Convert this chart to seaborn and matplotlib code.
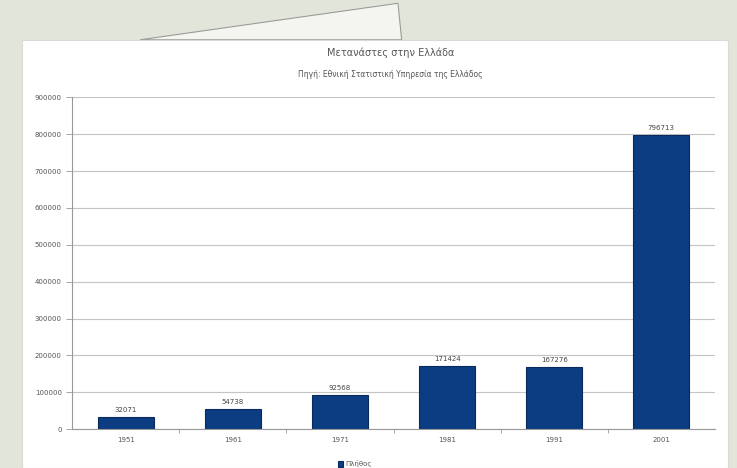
import pandas as pd
import matplotlib
matplotlib.use("Agg")
import matplotlib.pyplot as plt
from matplotlib.patches import Rectangle, Polygon
import seaborn as sns

# data
etos = ["1951", "1961", "1971", "1981", "1991", "2001"]
plithos = [32071, 54738, 92568, 171424, 167276, 796713]
y_ticks = [0, 100000, 200000, 300000, 400000, 500000, 600000, 700000, 800000, 900000]

titlos = "Μετανάστες στην Ελλάδα"
ypotitlos = "Πηγή: Εθνική Στατιστική Υπηρεσία της Ελλάδος"
legend_label = "Πλήθος"

df = pd.DataFrame({"etos": etos, "plithos": plithos})

sns.set_style("white")
plt.rcParams["font.family"] = ["DejaVu Sans"]

fig = plt.figure(figsize=(7.37, 4.68), dpi=100, facecolor="#e2e6da")

# background: paper behind and the white card
fig.patches.append(Polygon([(0.19, 0.915), (0.54, 0.993), (0.545, 0.915)],
                           closed=True, transform=fig.transFigure,
                           facecolor="#f4f5f1", edgecolor="#9a9c98", lw=0.8, zorder=-2))
fig.patches.append(Rectangle((0.03, 0.0), 0.958, 0.915, transform=fig.transFigure,
                             facecolor="white", edgecolor="#d8dad4", lw=0.8, zorder=-1))

ax = fig.add_axes([0.098, 0.083, 0.872, 0.709])
ax.set_zorder(1)
sns.barplot(data=df, x="etos", y="plithos", color="#0c3d82", width=0.52,
            edgecolor="#082a5c", linewidth=0.8, saturation=1, ax=ax, label=legend_label)

ax.set_ylim(0, 900000)
ax.set_xlim(-0.5, 5.5)
ax.set_yticks(y_ticks)
ax.set_yticklabels([str(v) for v in y_ticks])
ax.yaxis.grid(True, color="#c4c4c4", linewidth=0.8)
ax.set_axisbelow(True)
ax.set_xlabel("")
ax.set_ylabel("")
ax.tick_params(axis="both", labelsize=5, colors="#555555")
ax.tick_params(axis="y", left=True, length=4, width=0.6, color="#999999")
# ticks sit between the categories, not under the bars
ax.tick_params(axis="x", which="major", length=0, pad=6)
ax.set_xticks([i - 0.5 for i in range(1, len(etos))], minor=True)
ax.tick_params(axis="x", which="minor", bottom=True, length=3, width=0.6, color="#999999")
for s in ["top", "right"]:
    ax.spines[s].set_visible(False)
for s in ["left", "bottom"]:
    ax.spines[s].set_color("#999999")
    ax.spines[s].set_linewidth(0.8)

for c in ax.containers:
    ax.bar_label(c, labels=[str(v) for v in plithos], padding=3, fontsize=5, color="#444444")

fig.text(0.53, 0.888, titlos, ha="center", va="center", fontsize=7, color="#555555")
fig.text(0.53, 0.840, ypotitlos, ha="center", va="center", fontsize=5.5, color="#555555")

leg = ax.legend(loc="upper center", bbox_to_anchor=(0.44, -0.075), frameon=False,
                fontsize=5, handlelength=0.8, handleheight=0.8, handletextpad=0.3)
for t in leg.get_texts():
    t.set_color("#555555")

fig.savefig("out.png", dpi=100, facecolor=fig.get_facecolor())
